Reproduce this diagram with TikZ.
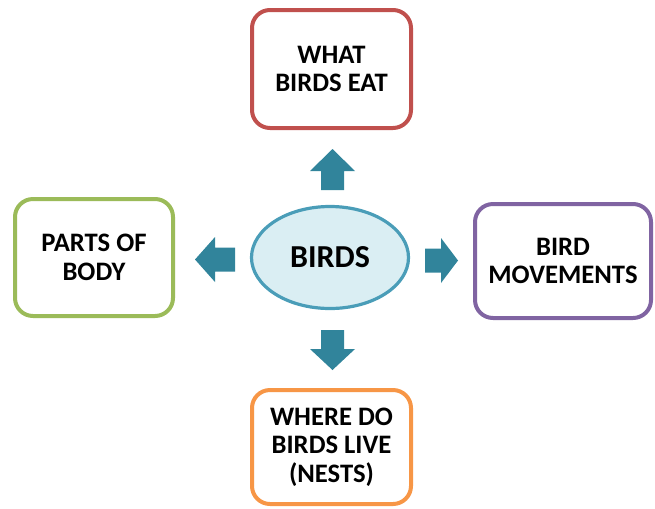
\documentclass[tikz,border=0pt]{standalone}
\usepackage{fontspec}
\setmainfont{Carlito}
\usetikzlibrary{shapes.geometric}
\def\px{*0.75pt}
\definecolor{boxred}{HTML}{C0504D}
\definecolor{boxgreen}{HTML}{9BBB59}
\definecolor{boxpurple}{HTML}{8064A2}
\definecolor{boxorange}{HTML}{F79646}
\definecolor{hubfill}{HTML}{DAEEF3}
\definecolor{hubline}{HTML}{4A9DB8}
\definecolor{arrowteal}{HTML}{31849B}
\begin{document}
\begin{tikzpicture}[x=0.75pt,y=-0.75pt,
  topic/.style={draw, line width=3pt, fill=white, rounded corners=13.5pt,
    inner sep=0pt, align=center, font=\bfseries\fontsize{20}{21.5}\selectfont},
  hub/.style={ellipse, draw=hubline, line width=2.4pt, fill=hubfill, inner sep=0pt,
    minimum width=157\px, minimum height=102\px,
    font=\bfseries\fontsize{24}{26}\selectfont},
  blockarrow/.style={fill=arrowteal, draw=none}]
\useasboundingbox (0,0) rectangle (655,508);

% central topic
\node[hub] (birds) at (330,257.5) {BIRDS};

% surrounding topics
\node[topic, draw=boxred, minimum width=159\px, minimum height=118\px]
  (eat) at (331.5,69) {WHAT\\BIRDS EAT};
\node[topic, draw=boxgreen, minimum width=158\px, minimum height=117\px]
  (body) at (94,257.5) {PARTS OF\\BODY};
\node[topic, draw=boxpurple, minimum width=176\px, minimum height=114\px]
  (move) at (563,261) {BIRD\\MOVEMENTS};
\node[topic, draw=boxorange, minimum width=159\px, minimum height=114\px]
  (live) at (331.5,447) {WHERE DO\\BIRDS LIVE\\(NESTS)};

% block arrows pointing outwards from the hub
% up
\fill[blockarrow] (332.5,149) -- (355,171) -- (344,171) -- (344,190)
  -- (321,190) -- (321,171) -- (310,171) -- cycle;
% down
\fill[blockarrow] (332.5,370) -- (355,349) -- (344,349) -- (344,330)
  -- (321,330) -- (321,349) -- (310,349) -- cycle;
% left
\fill[blockarrow] (195,259.5) -- (215,237) -- (215,247.5) -- (235,247.5)
  -- (235,271.5) -- (215,271.5) -- (215,282) -- cycle;
% right
\fill[blockarrow] (458,260.5) -- (441,238) -- (441,248.5) -- (425,248.5)
  -- (425,272.5) -- (441,272.5) -- (441,283) -- cycle;
\end{tikzpicture}
\end{document}
